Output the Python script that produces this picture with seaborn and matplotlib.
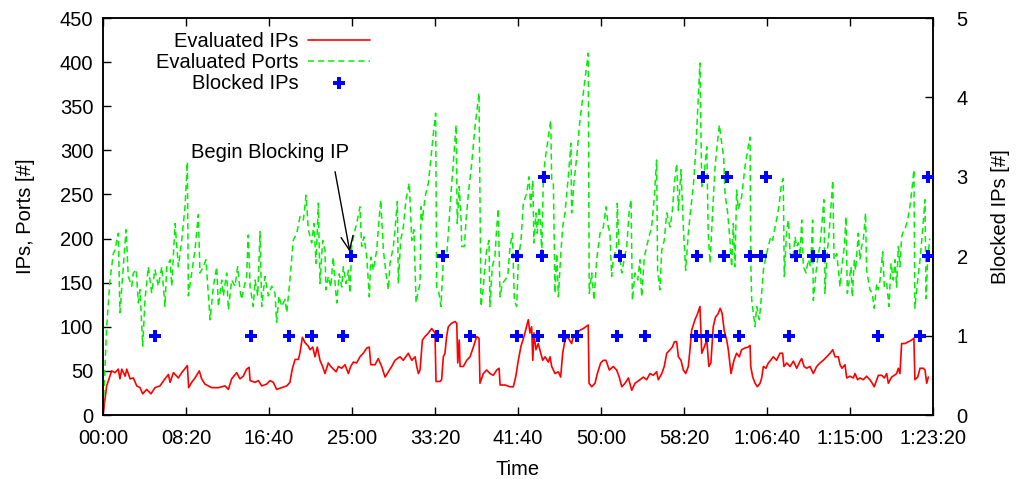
import pandas as pd
import seaborn as sns
import matplotlib.pyplot as plt

# time is seconds since start of capture (x axis shown as mm:ss / h:mm:ss)
ip_t = [2, 22, 52, 72, 92, 102, 113, 133, 143, 163, 183, 203, 223, 239, 263, 289, 313, 343, 373, 394,
        404, 424, 454, 474, 508, 516, 534, 554, 580, 594, 614,
        655, 695, 735, 755, 775, 805, 825, 845, 865, 880, 886, 916, 936, 956, 986, 1006, 1026, 1046, 1076,
        1107, 1126, 1140, 1157, 1177, 1187, 1201, 1217, 1237,
        1247, 1263, 1277, 1291, 1307, 1323, 1337, 1357, 1372, 1404, 1418, 1438, 1458, 1478, 1492, 1508,
        1528, 1548, 1568, 1589, 1604, 1613, 1639, 1658, 1679, 1699, 1719, 1739, 1759, 1789, 1809, 1839,
        1860, 1880, 1890, 1900,
        1910, 1924, 1940, 1960, 1980, 2000, 2006, 2030, 2040, 2050, 2060, 2070, 2080, 2100, 2120, 2131,
        2137, 2146, 2151, 2171, 2191, 2211, 2231, 2251, 2265, 2271, 2291, 2311, 2331, 2351, 2372, 2386,
        2392, 2422, 2452, 2472, 2488, 2500, 2518, 2536, 2562,
        2572, 2582, 2589, 2596, 2608, 2622, 2637, 2649, 2663, 2683, 2693, 2703, 2723, 2743, 2757, 2769,
        2783, 2797, 2823, 2833, 2854, 2873, 2893, 2923, 2928, 2944, 2964, 2978, 2998, 3014, 3030, 3050,
        3074, 3094, 3110, 3125, 3145,
        3165, 3185, 3205, 3235, 3255, 3275, 3295, 3315, 3335, 3345, 3366, 3381, 3396, 3416, 3430, 3442,
        3456, 3466, 3482, 3496, 3510, 3526, 3536, 3546, 3566, 3582, 3596, 3607, 3622, 3637, 3650, 3662,
        3676, 3690, 3706, 3718, 3730, 3742, 3757, 3767, 3783,
        3801, 3817, 3833, 3847, 3867, 3887, 3898, 3902, 3914, 3928, 3942, 3958, 3968, 3978, 3994, 4008,
        4022, 4038, 4058, 4078, 4094, 4102, 4119, 4139, 4159, 4179, 4199, 4209, 4223, 4239, 4259, 4279,
        4299, 4319, 4339, 4360, 4380, 4396, 4410, 4430,
        4440, 4452, 4470, 4480, 4500, 4520, 4530, 4546, 4560, 4580, 4600, 4620, 4634, 4646, 4661, 4671,
        4691, 4707, 4721, 4731, 4751, 4767, 4781, 4791, 4801, 4811, 4831, 4851, 4872, 4885, 4891, 4908,
        4922, 4942, 4952, 4962, 4972]
ip_n = [3, 33, 50, 48, 52, 41, 52, 44, 52, 41, 42, 33, 31, 24, 29, 24, 31, 33, 41, 46,
        37, 48, 42, 48, 56, 31, 37, 42, 50, 41, 35,
        31, 31, 33, 29, 41, 48, 41, 44, 52, 54, 39, 37, 39, 33, 35, 39, 37, 29, 31,
        33, 37, 52, 63, 63, 71, 88, 82, 78,
        74, 77, 66, 77, 62, 55, 47, 59, 55, 49, 55, 53, 57, 47, 55, 60,
        59, 66, 70, 76, 77, 57, 57, 64, 55, 43, 49, 55, 62, 66, 62, 70,
        62, 66, 55, 47,
        51, 85, 89, 93, 98, 93, 38, 38, 40, 66, 70, 89, 100, 104, 106, 104,
        59, 85, 55, 55, 62, 66, 77, 89, 87, 36, 47, 51, 47, 45, 51, 53,
        34, 34, 32, 32, 45, 60, 78, 89, 108,
        93, 100, 62, 93, 74, 81, 70, 62, 66, 60, 66, 55, 47, 49, 43, 70,
        85, 89, 81, 89, 93, 96, 98, 102, 36, 32, 36, 47, 59, 62, 62, 51,
        55, 51, 43, 32, 36,
        42, 28, 36, 40, 43, 40, 47, 45, 49, 40, 47, 55, 70, 74, 77, 83,
        83, 66, 62, 51, 47, 55, 74, 96, 108, 115, 123, 70, 77, 85, 55, 59,
        100, 111, 115, 121, 115, 96, 85, 74, 47,
        62, 70, 66, 74, 76, 77, 79, 55, 43, 36, 32, 36, 42, 55, 53, 59,
        62, 66, 62, 70, 70, 55, 59, 55, 61, 53, 61, 64, 55, 53, 55, 47,
        55, 59, 62, 66, 70, 74, 66, 66,
        57, 53, 57, 42, 44, 42, 47, 40, 42, 40, 44, 40, 36, 32, 40, 45,
        45, 42, 47, 36, 43, 45, 47, 53, 47, 81, 81, 83, 85, 87, 40, 43,
        53, 53, 51, 36, 43]

port_t = [2, 22, 42, 62, 72, 92, 102, 122, 139, 152, 173, 183, 199, 213, 223, 239, 253, 273, 293, 313,
          333, 354, 373, 384, 404, 414, 434, 454, 474, 494, 508, 514, 534, 554, 574, 584, 604, 620,
          645, 665, 685, 695, 715, 725, 745, 755, 775, 795, 811, 825, 835, 851, 865, 875, 886, 905,
          916, 932, 946, 956, 976, 996, 1016, 1036, 1046, 1060, 1076, 1096, 1107, 1126, 1146, 1167,
          1187, 1207, 1223, 1237,
          1257, 1271, 1283, 1297, 1307, 1323, 1337, 1343, 1357, 1372, 1387, 1398, 1408, 1423, 1438, 1448,
          1464, 1478, 1488, 1498, 1518, 1528, 1548, 1558, 1572, 1589, 1604, 1614, 1628, 1649, 1658, 1673,
          1689, 1705, 1719, 1729, 1749, 1759, 1773, 1779, 1793, 1809, 1825, 1845, 1860, 1873, 1886,
          1896, 1910, 1916, 1924, 1940, 1960, 1970, 1990, 2004, 2010, 2024, 2036, 2050, 2070, 2080, 2096,
          2110, 2127, 2134, 2146, 2157, 2161, 2177, 2187, 2201, 2221, 2241, 2265, 2277, 2291, 2301, 2311,
          2325, 2331, 2345, 2361, 2372, 2381, 2392, 2405, 2422, 2438, 2452, 2466, 2478, 2492, 2502, 2518,
          2532,
          2552, 2566, 2576, 2589, 2596, 2608, 2616, 2628, 2637, 2643, 2653, 2663, 2683, 2697, 2703, 2713,
          2723, 2733, 2743, 2757, 2769, 2783, 2803, 2819, 2823, 2837, 2854, 2873, 2898, 2923, 2929, 2944,
          2958, 2974, 2994, 3014, 3030, 3044, 3054, 3064, 3074, 3094, 3098, 3110, 3125, 3139, 3155, 3170,
          3181, 3189, 3205, 3221, 3235, 3245, 3261, 3275, 3289, 3305, 3321, 3335, 3341, 3355, 3366, 3381,
          3396, 3416, 3430, 3442, 3456, 3466, 3482, 3496, 3510, 3526, 3542, 3556, 3570, 3596, 3607, 3622,
          3637, 3646, 3657, 3671, 3687, 3703, 3713, 3727, 3739, 3747, 3763, 3777, 3787,
          3797, 3807, 3817, 3827, 3847, 3867, 3887, 3898, 3902, 3908, 3918, 3928, 3938, 3954, 3968, 3978,
          3994, 4008, 4022, 4034, 4048, 4062, 4074, 4088, 4098, 4104, 4119, 4129, 4139, 4155, 4169, 4179,
          4189, 4199, 4209, 4219, 4235, 4249, 4263, 4275, 4279, 4295, 4309, 4319, 4329, 4343, 4349, 4360,
          4380, 4396, 4404, 4420,
          4440, 4450, 4466, 4476, 4484, 4496, 4506, 4514, 4526, 4534, 4550, 4560, 4570, 4580, 4594, 4600,
          4610, 4620, 4634, 4646, 4661, 4671, 4681, 4697, 4707, 4721, 4735, 4747, 4761, 4771, 4781, 4791,
          4801, 4811, 4821, 4835, 4847, 4861, 4875, 4885, 4891, 4908, 4922, 4936, 4952, 4958, 4968, 4980]
port_n = [10, 100, 153, 183, 187, 206, 116, 168, 210, 157, 146, 161, 165, 127, 142, 78, 131, 168, 138, 165,
          146, 168, 123, 168, 176, 146, 217, 168, 198, 236, 287, 135, 161, 187, 227, 161, 168, 176,
          108, 146, 168, 123, 153, 135, 161, 119, 153, 146, 168, 142, 131, 146, 157, 204, 146, 123,
          153, 135, 208, 123, 157, 135, 146, 138, 105, 135, 123, 131, 116, 153, 198, 206,
          225, 221, 249, 210,
          195, 217, 172, 240, 149, 198, 187, 142, 157, 145, 179, 149, 127, 160, 145, 168,
          149, 164, 138, 191, 210, 217, 236, 191, 202, 179, 134, 179, 164, 187, 210, 244,
          187, 160, 142, 172, 191, 210, 242, 149, 198, 213, 244, 263, 198, 210, 127,
          138, 149, 236, 221, 247, 263, 281, 319, 342, 145, 138, 123, 176, 180, 206, 251,
          285, 329, 217, 259, 221, 191, 191, 221, 251, 285, 327, 365, 123, 145, 168, 187,
          198, 123, 168, 180, 213, 234, 134, 149, 153, 157, 191, 206, 130, 123, 176, 198,
          240,
          251, 270, 236, 266, 195, 229, 206, 236, 213, 183, 270, 289, 315, 334, 266, 263,
          138, 183, 134, 180, 213, 229, 270, 308, 229, 263, 293, 334, 372, 410, 138, 161,
          130, 176, 206, 213, 236, 213, 206, 157, 176, 191, 240, 183, 161, 176, 191, 232,
          244, 130, 161, 153, 176, 134, 179, 191, 202, 213, 247, 289, 164, 142, 187, 198,
          229, 213, 232, 263, 285, 232, 278, 213, 164, 206, 236, 259, 297, 399, 259, 274,
          304, 206, 172, 225, 281, 312, 329, 308, 293, 251, 229, 198, 168,
          217, 168, 255, 233, 247, 281, 304, 315, 176, 130, 115, 100, 123, 108, 138, 164,
          180, 191, 202, 198, 213, 225, 240, 263, 268, 157, 210, 221, 183, 176, 202, 191,
          195, 180, 221, 168, 161, 176, 168, 221, 130, 161, 183, 191, 213, 244, 138, 176,
          221, 266, 176, 183,
          145, 168, 191, 225, 138, 153, 168, 134, 176, 164, 206, 176, 191, 198, 229, 164,
          153, 142, 138, 121, 149, 142, 153, 185, 145, 149, 123, 172, 153, 176, 145, 191,
          168, 202, 208, 213, 221, 236, 259, 278, 121, 153, 176, 206, 244, 132, 176, 200]

blk_t = [316, 892, 1120, 1256, 1446, 1492, 2010, 2046, 2211, 2491, 2492, 2620, 2645, 2657, 2777,
         2855, 3096, 3114, 3265, 3570, 3578, 3614, 3639, 3717, 3741, 3759, 3831, 3898, 3962, 3994,
         4133, 4175, 4275, 4343, 4669, 4922, 4970, 4970]
blk_n = [1, 1, 1, 1, 1, 2, 1, 2, 1, 1, 2, 1, 2, 3, 1,
         1, 1, 2, 1, 1, 2, 3, 1, 1, 2, 3, 1, 2, 2, 3,
         1, 2, 2, 2, 1, 1, 2, 3]

x_ticks = list(range(0, 5001, 500))


def hms(s):
    h, r = divmod(int(s), 3600)
    m, sec = divmod(r, 60)
    if h:
        return '{}:{:02d}:{:02d}'.format(h, m, sec)
    return '{:02d}:{:02d}'.format(m, sec)


ips = pd.DataFrame({'t': ip_t, 'n': ip_n})
ports = pd.DataFrame({'t': port_t, 'n': port_n})
blocked = pd.DataFrame({'t': blk_t, 'n': blk_n})

sns.set_style('white')
plt.rcParams['font.family'] = ['Liberation Sans', 'DejaVu Sans']
plt.rcParams['font.size'] = 14.5
plt.rcParams['text.color'] = 'black'
plt.rcParams['axes.labelcolor'] = 'black'

fig = plt.figure(figsize=(10.16, 4.79), dpi=100)
ax = fig.add_axes([0.1014, 0.1336, 0.8169, 0.8288])
ax2 = ax.twinx()

sns.lineplot(data=ips, x='t', y='n', ax=ax, color='#ff0000', linewidth=1.2,
             estimator=None, sort=False, label='Evaluated IPs')
sns.lineplot(data=ports, x='t', y='n', ax=ax, color='#00f000', linewidth=1.1,
             estimator=None, sort=False, label='Evaluated Ports')
ax.lines[-1].set_dashes([4.0, 2.6])
sns.scatterplot(data=blocked, x='t', y='n', ax=ax2, marker='P', s=75, color='#0000ff',
                edgecolor='none', label='Blocked IPs', zorder=5)

for a in (ax, ax2):
    if a.get_legend() is not None:
        a.get_legend().remove()

ax.set_xlim(0, 5000)
ax.set_ylim(0, 450)
ax2.set_ylim(0, 5)
ax.set_xticks(x_ticks)
ax.set_xticklabels([hms(v) for v in x_ticks])
ax.set_yticks(range(0, 451, 50))
ax2.set_yticks(range(0, 6))

ax.set_xlabel('Time', labelpad=9)
ax.set_ylabel('IPs, Ports [#]', labelpad=18)
ax2.set_ylabel('Blocked IPs [#]', labelpad=17)

ax.tick_params(axis='both', direction='in', length=6, width=1, pad=7, colors='black',
               top=True, bottom=True, left=True, right=False)
ax.tick_params(axis='x', pad=10)
ax2.tick_params(axis='y', direction='in', length=6, width=1, pad=17, colors='black')
for a in (ax, ax2):
    for sp in a.spines.values():
        sp.set_color('black')
        sp.set_linewidth(1.1)

ax.annotate('Begin Blocking IP', xy=(1492, 180), xytext=(1006, 298),
            ha='center', va='center', fontsize=14.5,
            arrowprops=dict(arrowstyle='->,head_length=0.7,head_width=0.3', color='black',
                            lw=1.0, relpos=(0.9, 0.0), shrinkA=5, shrinkB=3),
            zorder=6)

h1, l1 = ax.get_legend_handles_labels()
h2, l2 = ax2.get_legend_handles_labels()
ax2.legend(h1 + h2, l1 + l2, loc='upper right', bbox_to_anchor=(0.322, 0.964),
           frameon=False, markerfirst=False, handlelength=3.1, handletextpad=0.45,
           labelspacing=0.08, borderpad=0, borderaxespad=0, fontsize=14.5)

fig.savefig('out.png', dpi=100)
